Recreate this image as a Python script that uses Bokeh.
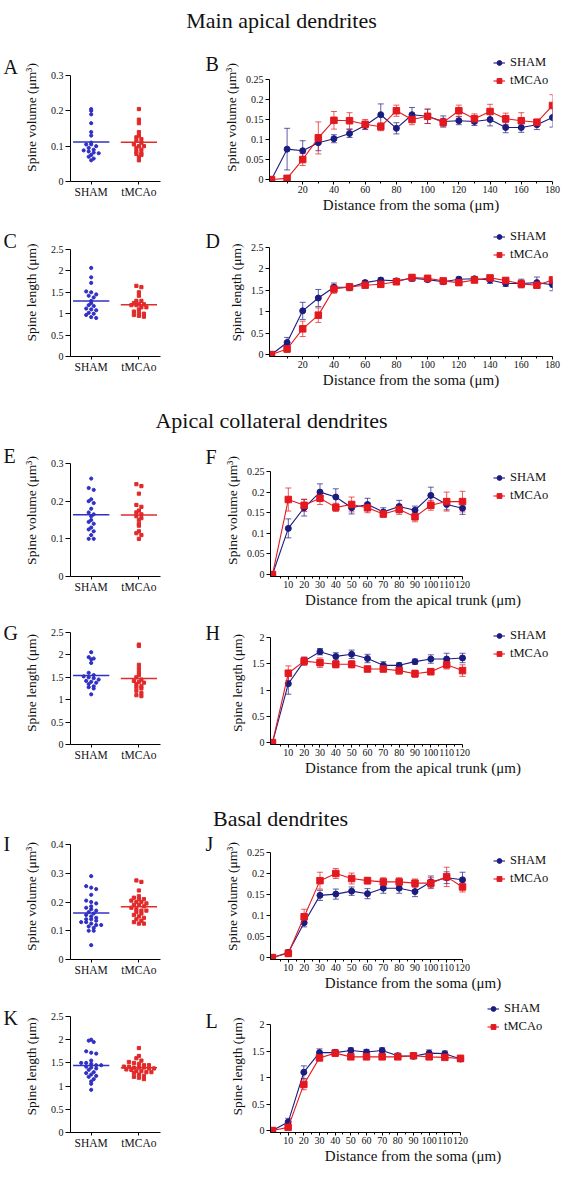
import numpy as np
from bokeh.plotting import figure
from bokeh.models import (Range1d, FixedTicker, NumeralTickFormatter, Whisker, TeeHead,
                          ColumnDataSource, Legend, LegendItem)
from bokeh.layouts import column, row
from bokeh.embed import file_html
from bokeh.resources import INLINE
from bokeh.core.properties import value

SERIF = "Liberation Serif"

# ---------------- data ----------------
groups = ["SHAM", "tMCAo"]
section_titles = ["Main apical dendrites", "Apical collateral dendrites", "Basal dendrites"]
panel_letters = ["A", "B", "C", "D", "E", "F", "G", "H", "I", "J", "K", "L"]

dist_soma_180 = [0, 10, 20, 30, 40, 50, 60, 70, 80, 90, 100, 110, 120, 130, 140, 150, 160, 170, 180]
dist_120 = [0, 10, 20, 30, 40, 50, 60, 70, 80, 90, 100, 110, 120]

vol_ticks_03 = [0, 0.1, 0.2, 0.3]
vol_ticks_04 = [0, 0.1, 0.2, 0.3, 0.4]
vol_ticks_025 = [0, 0.05, 0.1, 0.15, 0.2, 0.25]
len_ticks_25 = [0, 0.5, 1, 1.5, 2, 2.5]
len_ticks_2 = [0, 0.5, 1, 1.5, 2]
x_ticks_180 = [20, 40, 60, 80, 100, 120, 140, 160, 180]
x_ticks_120 = [10, 20, 30, 40, 50, 60, 70, 80, 90, 100, 110, 120]

# A: main apical, spine volume per neuron
A_sham = [0.205, 0.2, 0.19, 0.165, 0.14, 0.13, 0.11, 0.105, 0.105, 0.1, 0.095, 0.09,
          0.088, 0.085, 0.082, 0.08, 0.075, 0.07, 0.065, 0.06]
A_tmcao = [0.205, 0.175, 0.165, 0.14, 0.13, 0.125, 0.12, 0.115, 0.11, 0.105, 0.1, 0.1,
           0.095, 0.09, 0.085, 0.08, 0.078, 0.075, 0.07, 0.06]
# B: main apical, spine volume vs distance
B_sham = [0, 0.076, 0.072, 0.092, 0.102, 0.115, 0.135, 0.162, 0.128, 0.162, 0.158, 0.145,
          0.147, 0.145, 0.15, 0.13, 0.13, 0.137, 0.155]
B_sham_err = [0, 0.052, 0.025, 0.02, 0.01, 0.01, 0.01, 0.027, 0.014, 0.018, 0.018, 0.014,
              0.01, 0.01, 0.016, 0.013, 0.012, 0.012, 0.024]
B_tmcao = [0, 0.003, 0.05, 0.104, 0.148, 0.147, 0.138, 0.132, 0.172, 0.15, 0.158, 0.143,
           0.172, 0.152, 0.17, 0.152, 0.147, 0.143, 0.185]
B_tmcao_err = [0, 0.004, 0.015, 0.04, 0.022, 0.02, 0.012, 0.01, 0.014, 0.013, 0.018, 0.01,
               0.014, 0.012, 0.018, 0.014, 0.02, 0.008, 0.027]
# C: main apical, spine length per neuron
C_sham = [2.07, 1.85, 1.72, 1.52, 1.5, 1.45, 1.42, 1.38, 1.3, 1.25, 1.2, 1.18, 1.12, 1.1,
          1.08, 1.02, 1.0, 0.97, 0.92, 0.9]
C_tmcao = [1.65, 1.62, 1.5, 1.42, 1.3, 1.3, 1.25, 1.22, 1.22, 1.2, 1.2, 1.15, 1.1, 1.15,
           1.05, 1.02, 1.0, 0.97, 0.95, 0.93]
# D: main apical, spine length vs distance
D_sham = [0, 0.28, 1.02, 1.32, 1.57, 1.57, 1.68, 1.74, 1.72, 1.78, 1.75, 1.7, 1.76, 1.77,
          1.74, 1.66, 1.66, 1.68, 1.63]
D_sham_err = [0, 0.12, 0.2, 0.2, 0.1, 0.08, 0.05, 0.05, 0.06, 0.07, 0.05, 0.05, 0.05, 0.05,
              0.08, 0.07, 0.1, 0.13, 0.14]
D_tmcao = [0, 0.13, 0.6, 0.92, 1.53, 1.58, 1.62, 1.64, 1.7, 1.8, 1.78, 1.72, 1.68, 1.74,
           1.79, 1.73, 1.65, 1.62, 1.74]
D_tmcao_err = [0, 0.08, 0.18, 0.17, 0.1, 0.07, 0.05, 0.06, 0.05, 0.06, 0.04, 0.05, 0.06,
               0.05, 0.05, 0.06, 0.09, 0.07, 0.08]
# E: apical collateral, spine volume per neuron
E_sham = [0.26, 0.235, 0.23, 0.205, 0.2, 0.195, 0.18, 0.17, 0.165, 0.16, 0.15, 0.145,
          0.14, 0.13, 0.125, 0.12, 0.11, 0.1, 0.1]
E_tmcao = [0.245, 0.24, 0.22, 0.19, 0.185, 0.175, 0.17, 0.165, 0.16, 0.155, 0.15, 0.14,
           0.135, 0.12, 0.115, 0.11, 0.1]
# F: apical collateral, spine volume vs distance
F_sham = [0, 0.112, 0.162, 0.2, 0.188, 0.162, 0.17, 0.152, 0.165, 0.156, 0.192, 0.17, 0.161]
F_sham_err = [0, 0.023, 0.02, 0.02, 0.02, 0.015, 0.015, 0.01, 0.015, 0.01, 0.02, 0.013, 0.015]
F_tmcao = [0, 0.182, 0.168, 0.185, 0.163, 0.17, 0.162, 0.147, 0.158, 0.14, 0.168, 0.177, 0.177]
F_tmcao_err = [0, 0.028, 0.015, 0.015, 0.01, 0.018, 0.012, 0.008, 0.012, 0.012, 0.012, 0.023, 0.025]
# G: apical collateral, spine length per neuron
G_sham = [2.06, 1.95, 1.92, 1.9, 1.82, 1.6, 1.55, 1.52, 1.5, 1.48, 1.45, 1.42, 1.4, 1.38,
          1.35, 1.3, 1.28, 1.25, 1.12]
G_tmcao = [2.23, 2.2, 1.78, 1.7, 1.62, 1.55, 1.5, 1.45, 1.42, 1.4, 1.38, 1.35, 1.3, 1.28,
           1.25, 1.2, 1.15, 1.1, 1.08]
# H: apical collateral, spine length vs distance
H_sham = [0, 1.12, 1.55, 1.73, 1.64, 1.68, 1.6, 1.47, 1.47, 1.54, 1.59, 1.59, 1.61]
H_sham_err = [0, 0.2, 0.07, 0.06, 0.07, 0.08, 0.08, 0.07, 0.05, 0.05, 0.08, 0.11, 0.09]
H_tmcao = [0, 1.32, 1.55, 1.52, 1.49, 1.49, 1.4, 1.4, 1.37, 1.31, 1.35, 1.48, 1.37]
H_tmcao_err = [0, 0.14, 0.08, 0.09, 0.07, 0.07, 0.05, 0.05, 0.07, 0.07, 0.06, 0.08, 0.11]
# I: basal, spine volume per neuron
I_sham = [0.29, 0.255, 0.25, 0.245, 0.225, 0.205, 0.2, 0.195, 0.185, 0.18, 0.175, 0.17,
          0.165, 0.16, 0.155, 0.15, 0.145, 0.14, 0.14, 0.135, 0.13, 0.13, 0.125, 0.12, 0.12,
          0.115, 0.11, 0.1, 0.1, 0.05]
I_tmcao = [0.275, 0.27, 0.24, 0.22, 0.215, 0.21, 0.21, 0.205, 0.2, 0.2, 0.195, 0.19, 0.19,
           0.185, 0.18, 0.175, 0.17, 0.17, 0.165, 0.16, 0.155, 0.15, 0.145, 0.14, 0.135,
           0.13, 0.125, 0.125]
# J: basal, spine volume vs distance
J_sham = [0, 0.012, 0.083, 0.148, 0.151, 0.158, 0.152, 0.165, 0.165, 0.157, 0.18, 0.19, 0.185]
J_sham_err = [0, 0.006, 0.01, 0.012, 0.012, 0.01, 0.012, 0.012, 0.012, 0.012, 0.014, 0.014, 0.018]
J_tmcao = [0, 0.01, 0.097, 0.183, 0.2, 0.188, 0.183, 0.18, 0.18, 0.177, 0.177, 0.192, 0.168]
J_tmcao_err = [0, 0.008, 0.018, 0.02, 0.012, 0.013, 0.008, 0.01, 0.01, 0.01, 0.013, 0.023, 0.012]
# K: basal, spine length per neuron
K_sham = [2.0, 1.98, 1.95, 1.75, 1.72, 1.7, 1.55, 1.5, 1.5, 1.48, 1.45, 1.45, 1.42, 1.4,
          1.38, 1.35, 1.3, 1.28, 1.25, 1.22, 1.2, 1.15, 1.1, 1.05, 0.92]
K_tmcao = [1.82, 1.65, 1.6, 1.55, 1.52, 1.5, 1.48, 1.45, 1.45, 1.42, 1.42, 1.4, 1.4, 1.4,
           1.38, 1.38, 1.36, 1.35, 1.33, 1.32, 1.3, 1.3, 1.28, 1.25, 1.22, 1.2, 1.18, 1.15]
# L: basal, spine length vs distance
L_sham = [0, 0.16, 1.1, 1.47, 1.47, 1.51, 1.48, 1.51, 1.41, 1.4, 1.46, 1.45, 1.35]
L_sham_err = [0, 0.07, 0.12, 0.07, 0.06, 0.05, 0.05, 0.05, 0.05, 0.04, 0.06, 0.05, 0.05]
L_tmcao = [0, 0.06, 0.87, 1.37, 1.46, 1.39, 1.39, 1.39, 1.39, 1.41, 1.39, 1.38, 1.36]
L_tmcao_err = [0, 0.04, 0.1, 0.05, 0.04, 0.03, 0.03, 0.03, 0.03, 0.03, 0.04, 0.04, 0.06]

# ---------------- style / layout ----------------
SHAM_LINE = "#1c1c80"
SHAM_DOT = "#3030c4"
TM_LINE = "#e3191f"
TM_DOT = "#e22a2a"
INK = "#111111"
TOTAL_W = 561
LETTER_L_W = 20
SCAT_W = 178
LETTER_R_W = 22
LINE_W = TOTAL_W - LETTER_L_W - SCAT_W - LETTER_R_W

VOL_LABEL = "Spine volume (μm³)"
LEN_LABEL = "Spine length (μm)"
DIST_SOMA = "Distance from the soma (μm)"
DIST_TRUNK = "Distance from the apical trunk (μm)"


def base_figure(width, height, xr, yr, top, bottom, left, frame_w):
    p = figure(width=width, height=height, x_range=xr, y_range=yr, toolbar_location=None,
               output_backend="svg", title=None)
    p.min_border_left = left
    p.min_border_right = width - left - frame_w
    p.min_border_top = top
    p.min_border_bottom = bottom
    p.outline_line_color = None
    p.xgrid.visible = False
    p.ygrid.visible = False
    p.background_fill_color = "white"
    p.border_fill_color = "white"
    for ax in (p.xaxis[0], p.yaxis[0]):
        ax.axis_line_color = "black"
        ax.axis_line_width = 1
        ax.major_tick_line_color = "black"
        ax.major_tick_in = 0
        ax.major_tick_out = 4
        ax.minor_tick_line_color = None
        ax.major_label_text_font = SERIF
        ax.axis_label_text_font = SERIF
        ax.axis_label_text_font_style = "normal"
        ax.major_label_text_color = INK
        ax.axis_label_text_color = INK
        ax.major_label_text_font_size = "10px"
    p.yaxis[0].formatter = NumeralTickFormatter(format="0.[00]")
    return p


def blank_figure(width, height, top=0, bottom=0):
    p = figure(width=width, height=height, x_range=Range1d(0, width),
               y_range=Range1d(bottom, height - top),
               toolbar_location=None, output_backend="svg", title=None,
               x_axis_location=None, y_axis_location=None, min_border=0)
    p.min_border_top = top
    p.min_border_bottom = bottom
    p.outline_line_color = None
    p.xgrid.visible = False
    p.ygrid.visible = False
    return p


def letter_figure(letter, width, height, top, bottom, x, cy):
    p = blank_figure(width, height, top, bottom)
    p.text(x=[x], y=[height - cy], text=[letter], text_font=value(SERIF), text_font_size="20px",
           text_align="left", text_baseline="middle", text_color=INK)
    return p


def title_panel(text, height, cy, cx):
    p = blank_figure(TOTAL_W, height)
    p.text(x=[cx], y=[height - cy], text=[text], text_font=value(SERIF), text_font_size="22px",
           text_align="center", text_baseline="middle", text_color=INK)
    return p


def swarm(vals, center, binw, dx):
    vals = np.asarray(vals, dtype=float)
    xs = np.empty(len(vals))
    bins = np.floor(vals / binw + 0.5).astype(int)
    for b in np.unique(bins):
        idx = np.where(bins == b)[0]
        n = len(idx)
        xs[idx] = center + (np.arange(n) - (n - 1) / 2) * dx
    return xs


def scatter_panel(sham_vals, tm_vals, yticks, ylabel, height, T, bb, data_top):
    left, frame_w = 49, 91
    ymax = yticks[-1]
    data_h = height - bb - data_top
    yr = Range1d(yticks[0], ymax + (data_top - T) * (ymax - yticks[0]) / data_h)
    p = base_figure(SCAT_W, height, Range1d(0.566, 2.453), yr, T, bb, left, frame_w)
    span = ymax - yticks[0]
    for i, (vals, color, marker) in enumerate([(sham_vals, SHAM_DOT, "circle"),
                                               (tm_vals, TM_DOT, "square")]):
        c = i + 1
        xs = swarm(vals, c, span / 32, 0.105)
        p.scatter(xs, vals, marker=marker, size=3.2, color=color)
        m = float(np.mean(vals))
        p.segment(x0=[c - 0.38], x1=[c + 0.38], y0=[m], y1=[m], line_color=color, line_width=1.5)
    p.yaxis.bounds = (yticks[0], ymax)
    p.xaxis.ticker = FixedTicker(ticks=[1, 2])
    p.xaxis.major_label_overrides = {1: groups[0], 2: groups[1]}
    p.xaxis.major_label_text_font_size = "11.5px"
    p.xaxis.major_tick_out = 3
    p.xaxis.major_label_standoff = 1
    p.yaxis.ticker = FixedTicker(ticks=yticks)
    p.yaxis.major_tick_out = 5
    p.yaxis.major_label_standoff = 2
    p.yaxis.axis_label = ylabel
    p.yaxis.axis_label_text_font_size = "13.5px"
    p.yaxis.axis_label_standoff = 9
    return p


def line_panel(dist, sham, sham_err, tm, tm_err, yticks, xticks, xlabel, ylabel,
               height, T, bb, data_top, left, frame_w, extra_right, legend_x, legend_y):
    # the data area spans frame_w x data_h pixels; the frame is widened / raised so the
    # legend lies inside it, while the axes keep their bounds
    xmax = dist[-1]
    ymax = yticks[-1]
    data_h = height - bb - data_top
    xpad = xmax / frame_w * 2.0
    ypad = ymax / data_h * 2.0
    upx = (xmax + xpad) / frame_w
    upy = (ymax + ypad) / data_h
    xr = Range1d(-xpad, xmax + extra_right * upx)
    yr = Range1d(-ypad, ymax + (data_top - T) * upy)
    p = base_figure(LINE_W, height, xr, yr, T, bb, left, frame_w + extra_right)
    items = []
    for vals, errs, lc, marker, msize, name in [(sham, sham_err, SHAM_LINE, "circle", 6, groups[0]),
                                                (tm, tm_err, TM_LINE, "square", 6.5, groups[1])]:
        d = np.asarray(dist, dtype=float)
        v = np.asarray(vals, dtype=float)
        e = np.asarray(errs, dtype=float)
        keep = e > 0
        src = ColumnDataSource(dict(x=d[keep], lo=(v - e)[keep], hi=(v + e)[keep]))
        p.add_layout(Whisker(source=src, base="x", upper="hi", lower="lo", line_color=lc,
                             line_alpha=0.7, line_width=1,
                             upper_head=TeeHead(size=6, line_color=lc, line_alpha=0.7, line_width=1),
                             lower_head=TeeHead(size=6, line_color=lc, line_alpha=0.7, line_width=1)))
        l = p.line(d, v, line_color=lc, line_width=1.1)
        s = p.scatter(d, v, marker=marker, size=msize, color=lc)
        items.append(LegendItem(label=name, renderers=[l, s]))
    step = xticks[1] - xticks[0]
    minor = [t - step / 2 for t in xticks]
    p.xaxis.ticker = FixedTicker(ticks=xticks, minor_ticks=minor)
    p.xaxis.bounds = (-xpad, xmax)
    p.yaxis.bounds = (-ypad, ymax)
    p.xaxis.minor_tick_line_color = "black"
    p.xaxis.minor_tick_out = 2
    p.xaxis.minor_tick_in = 0
    p.xaxis.major_tick_out = 3
    p.xaxis.major_label_standoff = 1
    p.xaxis.axis_label = xlabel
    p.xaxis.axis_label_text_font_size = "15px"
    p.xaxis.axis_label_standoff = 1
    p.yaxis.ticker = FixedTicker(ticks=yticks)
    p.yaxis.major_tick_out = 4
    p.yaxis.major_label_standoff = 2
    p.yaxis.axis_label = ylabel
    p.yaxis.axis_label_text_font_size = "13.5px"
    p.yaxis.axis_label_standoff = 4
    legend = Legend(items=items, location=(legend_x, legend_y), padding=0, margin=0,
                    spacing=3, glyph_height=15, glyph_width=12, label_height=15,
                    label_standoff=5, border_line_color=None, background_fill_alpha=0,
                    label_text_font=SERIF, label_text_font_size="12.5px",
                    label_text_color=INK)
    p.add_layout(legend)
    return p


def panel_row(height, T, bb, letters, letter_cy, scat, line):
    lA = letter_figure(letters[0], LETTER_L_W, height, T, bb, 3, letter_cy[0])
    lB = letter_figure(letters[1], LETTER_R_W, height, T, bb, 7, letter_cy[1])
    return row(lA, scat, lB, line)


# ---- section 1: main apical dendrites ----
t1 = title_panel(section_titles[0], 40, 20, 281)
pA = scatter_panel(A_sham, A_tmcao, vol_ticks_03, VOL_LABEL, 175, 13, 34, 35)
pB = line_panel(dist_soma_180, B_sham, B_sham_err, B_tmcao, B_tmcao_err, vol_ticks_025,
                x_ticks_180, DIST_SOMA, VOL_LABEL, 175, 13, 34, 39, 49, 283, 0, 224, 93.5)
pC = scatter_panel(C_sham, C_tmcao, len_ticks_25, LEN_LABEL, 185, 13, 44, 34)
pD = line_panel(dist_soma_180, D_sham, D_sham_err, D_tmcao, D_tmcao_err, len_ticks_25,
                x_ticks_180, DIST_SOMA, LEN_LABEL, 185, 13, 44, 32, 49, 283, 0, 224, 94.5)
# ---- section 2: apical collateral dendrites ----
t2 = title_panel(section_titles[1], 40, 20, 271)
pE = scatter_panel(E_sham, E_tmcao, vol_ticks_03, VOL_LABEL, 170, 4, 34, 23)
pF = line_panel(dist_120, F_sham, F_sham_err, F_tmcao, F_tmcao_err, vol_ticks_025,
                x_ticks_120, DIST_TRUNK, VOL_LABEL, 170, 4, 34, 31, 50, 192, 93, 223, 73.5)
pG = scatter_panel(G_sham, G_tmcao, len_ticks_25, LEN_LABEL, 190, 11, 56, 22)
pH = line_panel(dist_120, H_sham, H_sham_err, H_tmcao, H_tmcao_err, len_ticks_2,
                x_ticks_120, DIST_TRUNK, LEN_LABEL, 190, 11, 56, 27, 50, 192, 93, 223, 83.5)
# ---- section 3: basal dendrites ----
t3 = title_panel(section_titles[2], 32, 18, 280)
pI = scatter_panel(I_sham, I_tmcao, vol_ticks_04, VOL_LABEL, 168, 1, 41, 12)
pJ = line_panel(dist_120, J_sham, J_sham_err, J_tmcao, J_tmcao_err, vol_ticks_025,
                x_ticks_120, DIST_SOMA, VOL_LABEL, 168, 1, 41, 20, 50, 192, 93, 223, 73.5)
pK = scatter_panel(K_sham, K_tmcao, len_ticks_25, LEN_LABEL, 177, 0, 45, 16)
pL = line_panel(dist_120, L_sham, L_sham_err, L_tmcao, L_tmcao_err, len_ticks_2,
                x_ticks_120, DIST_SOMA, LEN_LABEL, 177, 0, 45, 24, 50, 190, 95, 217, 98.5)

page = column(
    t1,
    panel_row(175, 13, 34, panel_letters[0:2], (26, 23), pA, pB),
    panel_row(185, 13, 44, panel_letters[2:4], (25, 25), pC, pD),
    t2,
    panel_row(170, 4, 34, panel_letters[4:6], (15, 16), pE, pF),
    panel_row(190, 11, 56, panel_letters[6:8], (22, 22), pG, pH),
    t3,
    panel_row(168, 1, 41, panel_letters[8:10], (11, 11), pI, pJ),
    panel_row(177, 0, 45, panel_letters[10:12], (17, 20), pK, pL),
)

open("out.html", "w").write(file_html(page, INLINE))
